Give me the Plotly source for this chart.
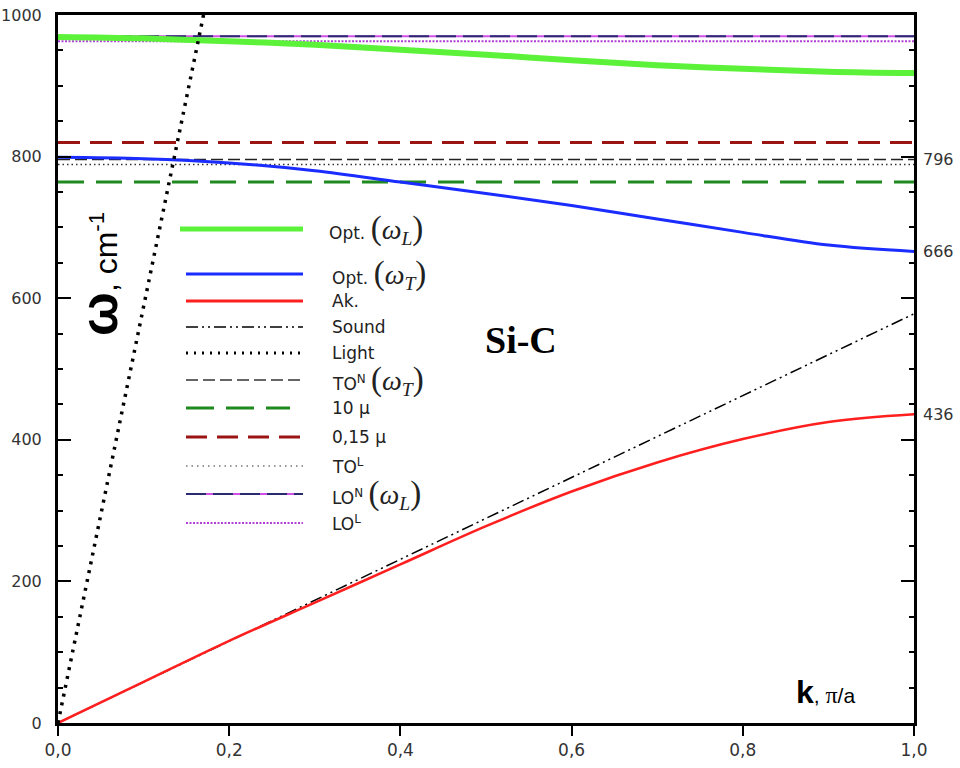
import plotly.graph_objects as go

# ---------------- data ----------------
k_grid = [0.0, 0.1, 0.2, 0.3, 0.4, 0.5, 0.6, 0.7, 0.8, 0.9, 1.0]
opt_L = [969, 967, 963, 958, 951, 944, 936, 929, 924, 920, 918]
opt_T = [799, 797, 791, 780, 764, 748, 731, 712, 693, 675, 666]
acoustic = [0, 58, 116, 170, 224, 278, 327, 368, 401, 425, 436]

k_ends = [0.0, 1.0]
sound = [0, 578]
light_k = [0.0, 0.170]
light = [0, 1000]

TO_N = 796
mu_10 = 764
mu_015 = 820
TO_L = 789
LO_N = 970
LO_L = 963

x_ticks = [0.0, 0.2, 0.4, 0.6, 0.8, 1.0]
x_tick_text = ["0,0", "0,2", "0,4", "0,6", "0,8", "1,0"]
y_ticks = [0, 200, 400, 600, 800, 1000]
right_ticks = [436, 666, 796]

# ---------------- styles ----------------
GREEN = "#5cf23a"
BLUE = "#1a2cff"
RED = "#ff1f1f"
DKGREEN = "#1f8a1f"
DKRED = "#9a1414"
NAVY = "#2a2a70"
MAGENTA = "#d050e8"
VIOLET = "#b040d8"
TXT = "DejaVu Sans"

fig = go.Figure()


def hline(val, color, width, dash, yaxis="y"):
    fig.add_trace(go.Scatter(x=k_ends, y=[val, val], mode="lines", yaxis=yaxis,
                             line=dict(color=color, width=width, dash=dash),
                             showlegend=False, hoverinfo="skip"))


# horizontal reference lines
hline(LO_N, MAGENTA, 2, "solid")
hline(LO_N, NAVY, 2, "20px,7px")
hline(LO_L, VIOLET, 2, "2px,1.5px")
hline(mu_015, DKRED, 3, "22px,10px")
hline(TO_N, "#222222", 1.5, "12px,5px")
hline(TO_L, "#333333", 1.5, "1.5px,3px")
hline(mu_10, DKGREEN, 3, "26px,12px")

# curves
fig.add_trace(go.Scatter(x=k_grid, y=opt_L, mode="lines", line=dict(color=GREEN, width=6, shape="spline"),
                         showlegend=False))
fig.add_trace(go.Scatter(x=k_grid, y=opt_T, mode="lines", line=dict(color=BLUE, width=3, shape="spline"),
                         showlegend=False))
fig.add_trace(go.Scatter(x=k_ends, y=sound, mode="lines",
                         line=dict(color="black", width=1.5, dash="12px,4px,2px,4px,2px,4px"),
                         showlegend=False))
fig.add_trace(go.Scatter(x=k_grid, y=acoustic, mode="lines", line=dict(color=RED, width=2.5, shape="spline"),
                         showlegend=False))
fig.add_trace(go.Scatter(x=light_k, y=light, mode="lines",
                         line=dict(color="black", width=3.5, dash="3px,6px"),
                         showlegend=False))

# invisible trace to activate right axis labels
fig.add_trace(go.Scatter(x=[None], y=[None], yaxis="y2", showlegend=False))

# ---------------- manual legend ----------------
L0 = 186
def px_x(px):
    return (px - 58) / 856.0

def px_y(py):
    return (723.0 - py) / 708.0

OMEGA = ("<span style='font-family:Liberation Serif;font-size:33px'>(</span>"
         "<span style='font-family:Liberation Serif;font-size:28px'><i>ω<sub>%s</sub></i></span>"
         "<span style='font-family:Liberation Serif;font-size:33px'>)</span>")

legend_rows = [
    (229, 180, 303, GREEN, 5, "solid", "Opt. " + OMEGA % "L", 327),
    (274, L0, 303, BLUE, 3, "solid", "Opt. " + OMEGA % "T", 330),
    (301, L0, 303, RED, 3, "solid", "Ak.", 330),
    (327, L0, 303, "black", 1.5, "12px,4px,2px,4px,2px,4px", "Sound", 330),
    (353, L0, 303, "black", 3, "2px,6px", "Light", 330),
    (380, L0, 303, "#333333", 1.5, "12px,5px", "TO<sup>N</sup> " + OMEGA % "T", 330),
    (408, L0, 290, DKGREEN, 3, "28px,12px", "10 μ", 330),
    (437, L0, 300, DKRED, 3, "21px,10px", "0,15 μ", 330),
    (466, L0, 303, "#333333", 1.2, "1.5px,4px", "TO<sup>L</sup>", 330),
    (494, L0, 303, MAGENTA, 2, "solid", "LO<sup>N</sup> " + OMEGA % "L", 330),
    (523, L0, 303, VIOLET, 2, "2px,1.5px", "LO<sup>L</sup>", 330),
]

shapes = []
annotations = []
for py, x0, x1, color, width, dash, text, tx in legend_rows:
    shapes.append(dict(type="line", xref="paper", yref="paper",
                       x0=px_x(x0), x1=px_x(x1), y0=px_y(py), y1=px_y(py),
                       line=dict(color=color, width=width, dash=dash)))
    annotations.append(dict(xref="paper", yref="paper", x=px_x(tx), y=px_y(py),
                            xanchor="left", yanchor="middle", showarrow=False,
                            text=text, font=dict(family=TXT, size=17, color="#222")))
# navy dashes on top of magenta for LO^N sample
shapes.append(dict(type="line", xref="paper", yref="paper",
                   x0=px_x(L0), x1=px_x(303), y0=px_y(494), y1=px_y(494),
                   line=dict(color=NAVY, width=2, dash="20px,7px")))

# texts
annotations.append(dict(xref="paper", yref="paper", x=px_x(521), y=px_y(340),
                        xanchor="center", yanchor="middle", showarrow=False,
                        text="<b>Si-C</b>",
                        font=dict(family="Liberation Serif", size=38, color="black")))
annotations.append(dict(xref="paper", yref="paper", x=px_x(794), y=px_y(692),
                        xanchor="left", yanchor="middle", showarrow=False,
                        text="<b><span style='font-size:32px'>k</span></b>, <span style='font-family:Liberation Serif;font-size:24px'>π</span>/a",
                        font=dict(family="Liberation Sans", size=21, color="black")))
annotations.append(dict(xref="paper", yref="paper", x=px_x(99), y=px_y(274),
                        xanchor="center", yanchor="middle", showarrow=False, textangle=-90,
                        text="<b><span style='font-size:52px'>ω</span></b>, cm<sup>-1</sup>",
                        font=dict(family="Liberation Sans", size=32, color="black")))

fig.update_layout(
    width=960, height=768,
    margin=dict(l=58, r=46, t=15, b=45),
    paper_bgcolor="white", plot_bgcolor="white",
    showlegend=False,
    shapes=shapes,
    annotations=annotations,
    xaxis=dict(range=[0, 1], tickvals=x_ticks, ticktext=x_tick_text, automargin=False,
               ticks="outside", ticklen=10, tickwidth=2, tickcolor="black",
               showline=True, linecolor="black", linewidth=3, mirror=True,
               showgrid=False, zeroline=False,
               tickfont=dict(family=TXT, size=17, color="#333")),
    yaxis=dict(range=[0, 1000], tickvals=y_ticks, automargin=False,
               ticks="inside", ticklen=13, tickwidth=2, tickcolor="black",
               minor=dict(dtick=50, ticks="inside", ticklen=5, tickwidth=1.5, tickcolor="black"),
               showline=True, linecolor="black", linewidth=3, mirror="allticks",
               showgrid=False, zeroline=False, ticklabelstandoff=10,
               tickfont=dict(family=TXT, size=16, color="#333")),
    yaxis2=dict(range=[0, 1000], overlaying="y", side="right", tickvals=right_ticks,
                ticks="", showline=False, showgrid=False, zeroline=False, automargin=False,
                ticklabelstandoff=8,
                tickfont=dict(family=TXT, size=16, color="#333")),
)

fig.write_html("out.html")
